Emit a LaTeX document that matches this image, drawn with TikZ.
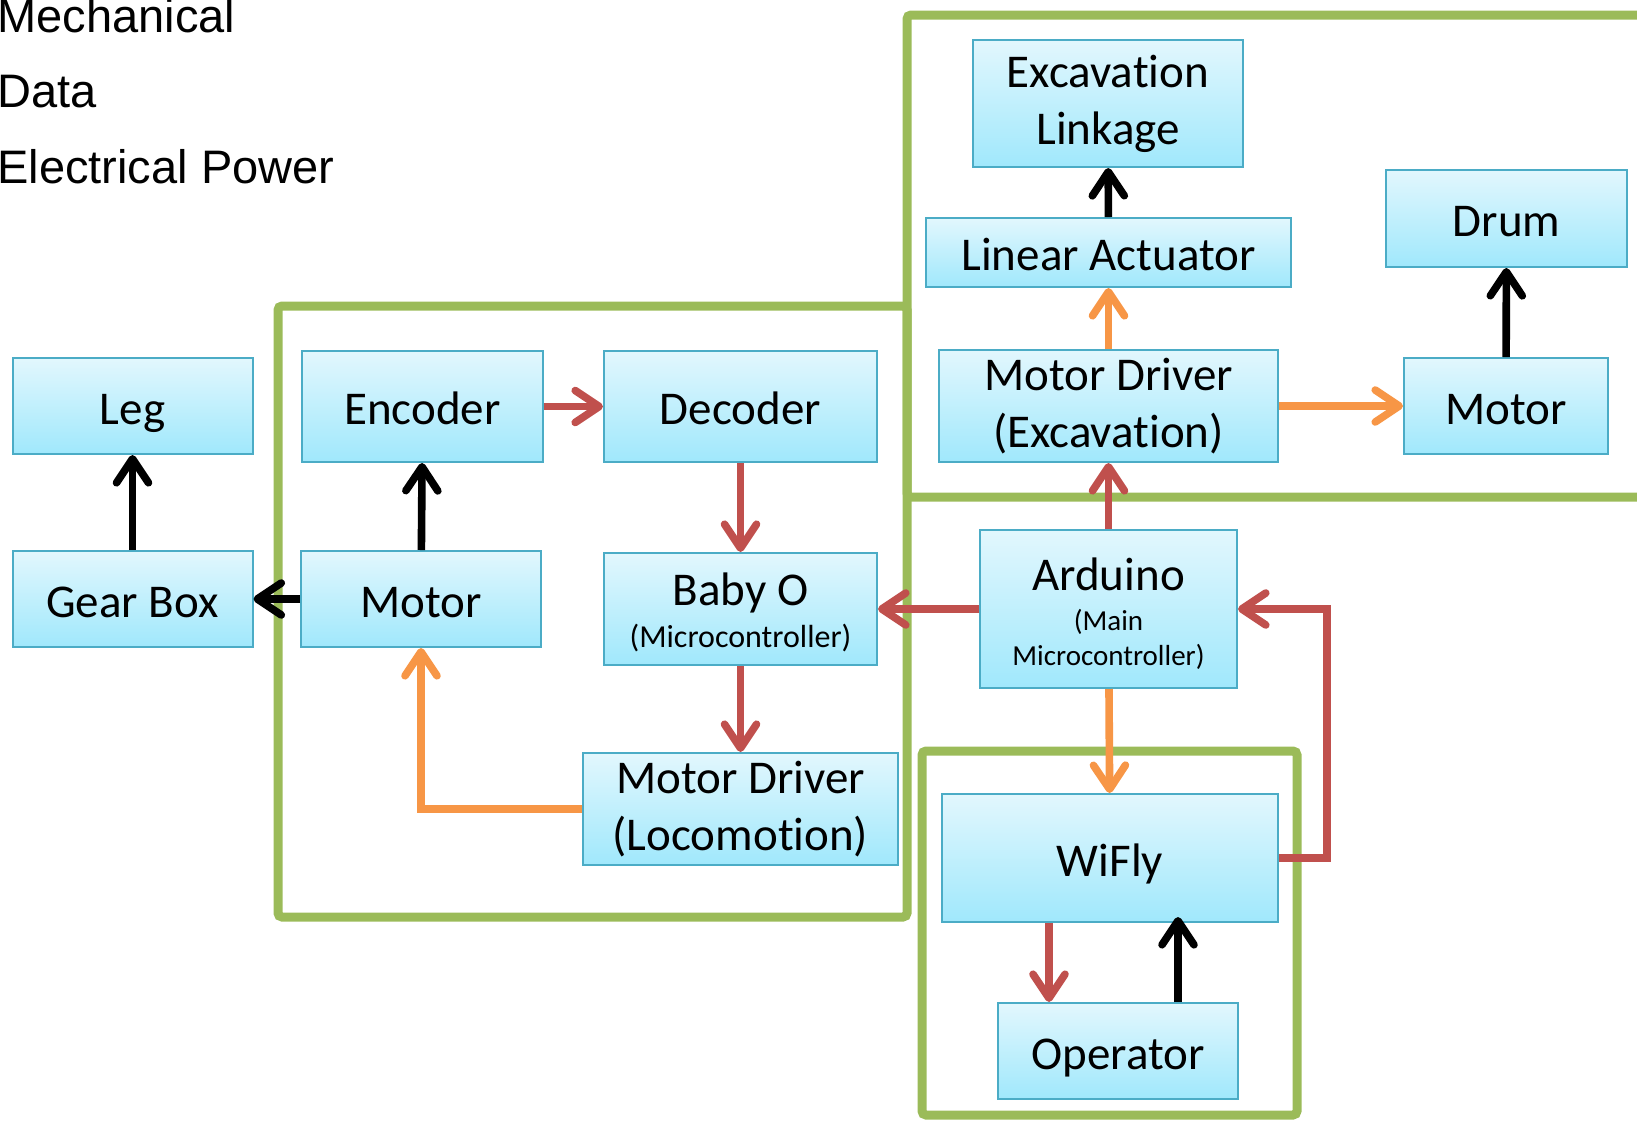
\documentclass[tikz,border=0pt]{standalone}
\usepackage{fontspec}
\setmainfont{Carlito}[Ligatures=NoCommon]
\newfontfamily\legendfont{Liberation Sans}
\usetikzlibrary{arrows.meta}

\definecolor{grpgreen}{RGB}{155,187,89}
\definecolor{datared}{RGB}{192,80,77}
\definecolor{pwrorange}{RGB}{247,150,70}
\definecolor{unitedge}{RGB}{75,172,198}
\definecolor{unittop}{RGB}{226,247,253}
\definecolor{unitbot}{RGB}{160,232,252}

\newcommand\subline{\fontsize{14.5}{17}\selectfont}
\newcommand\midline{\fontsize{16}{18}\selectfont}

\tikzset{
  unit/.style={draw=unitedge, line width=1pt, top color=unittop, bottom color=unitbot,
    inner sep=0pt, align=center, font=\fontsize{23.5}{28.5}\selectfont},
  oneline/.style={unit, text height=18pt, text depth=0pt},
  legend/.style={inner sep=0pt, anchor=base west, font=\legendfont\fontsize{23.5}{28}\selectfont},
  link/.style={line width=3.8pt, -{Straight Barb[length=12pt,width=16pt,round]}},
  mech/.style={link, draw=black},
  data/.style={link, draw=datared},
  elec/.style={link, draw=pwrorange},
  grp/.style={draw=grpgreen, line width=4.5pt, rounded corners=2pt},
}

\begin{document}
\begin{tikzpicture}[x=0.5pt,y=0.5pt,yscale=-1,xscale=1]
\useasboundingbox (0,0) rectangle (1637,1120);
\clip (0,0) rectangle (1637,1120);

%Shape: Rectangle [locomotion group]
\draw[grp] (278,306) rectangle (907,917);
%Shape: Rectangle [excavation group]
\draw[grp] (907,15) rectangle (1690,497);
%Shape: Rectangle [operator group]
\draw[grp] (922,751) rectangle (1297,1115);

% Text Node
\node[legend] (lgmech) at (-3,32) {Mechanical};
% Text Node
\node[legend] (lgdata) at (-3,107) {Data};
% Text Node
\node[legend] (lgelec) at (-3,183) {Electrical Power};

% Text Node
\node[oneline, minimum width=120pt, minimum height=48pt] (leg) at (132.5,406) {Leg};
% Text Node
\node[oneline, minimum width=120pt, minimum height=48pt] (gearbox) at (132.5,599) {Gear Box};
% Text Node
\node[oneline, minimum width=120.5pt, minimum height=55.5pt] (encoder) at (422.5,406.5) {Encoder};
% Text Node
\node[oneline, minimum width=120pt, minimum height=48pt] (motorL) at (421,599) {Motor};
% Text Node
\node[oneline, minimum width=136.5pt, minimum height=55.5pt] (decoder) at (740.5,406.5) {Decoder};
% Text Node
\node[unit, minimum width=136.5pt, minimum height=56pt] (babyo) at (740.5,609) {\rule{0pt}{20pt}Baby O\\[-7.5pt]{\midline (Microcontroller)}};
% Text Node
\node[unit, minimum width=157.5pt, minimum height=56pt] (mdl) at (740.5,809) {Motor Driver\\(Locomotion)};
% Text Node
\node[unit, minimum width=135pt, minimum height=63.5pt] (linkage) at (1108,103.5) {Excavation\\Linkage};
% Text Node
\node[oneline, minimum width=182.5pt, minimum height=34.5pt] (actuator) at (1108.5,252.5) {Linear Actuator};
% Text Node
\node[unit, minimum width=169.5pt, minimum height=56pt] (mde) at (1108.5,406) {Motor Driver\\(Excavation)};
% Text Node
\node[oneline, minimum width=120.5pt, minimum height=48.5pt] (drum) at (1506.5,218.5) {Drum};
% Text Node
\node[oneline, minimum width=102pt, minimum height=48pt] (motorR) at (1506,406) {Motor};
% Text Node
\node[unit, minimum width=128.5pt, minimum height=79pt] (arduino) at (1108.5,609) {\rule{0pt}{21pt}Arduino\\[-8.5pt]{\subline (Main}\\[-11pt]{\subline Microcontroller)}};
% Text Node
\node[oneline, minimum width=168pt, minimum height=64pt] (wifly) at (1110,858) {WiFly};
% Text Node
\node[oneline, minimum width=120pt, minimum height=48pt] (operator) at (1118,1051) {Operator};

%Straight Lines
\draw[mech] (gearbox) -- (leg);
\draw[mech] (motorL) -- (gearbox);
\draw[mech] (motorL) -- (encoder);
\draw[data] (encoder) -- (decoder);
\draw[data] (decoder) -- (babyo);
\draw[data] (babyo) -- (mdl);
\draw[elec] (mdl) -| (motorL);
\draw[data] (arduino) -- (babyo);
\draw[data] (arduino) -- (mde);
\draw[elec] (mde) -- (actuator);
\draw[mech] (actuator) -- (linkage);
\draw[elec] (mde) -- (motorR);
\draw[mech] (motorR) -- (drum);
\draw[elec] (arduino) -- (wifly);
\draw[data] (wifly.east) -- ++(48,0) |- (arduino.east);
\draw[data] ([xshift=-30.5pt]wifly.south) -- ([xshift=-34.5pt]operator.north);
\draw[mech] ([xshift=30pt]operator.north) -- ([xshift=34pt,yshift=-3pt]wifly.south);

\end{tikzpicture}
\end{document}
